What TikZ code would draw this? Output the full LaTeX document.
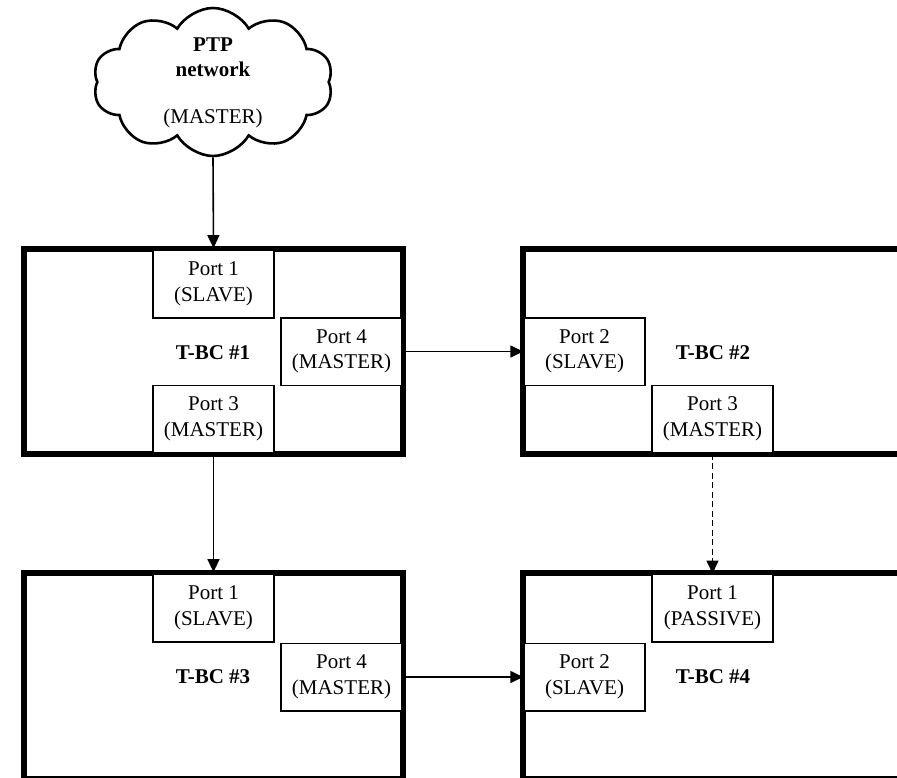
\documentclass[tikz,border=0pt]{standalone}
\usepackage{fontspec}
\setmainfont{Liberation Serif}
\usetikzlibrary{shapes.symbols,arrows.meta}
\tikzset{
  bcbox/.style={draw, line width=3.8pt, rectangle, inner sep=0pt, minimum width=377pt, minimum height=203pt},
  portbox/.style={draw, line width=1.5pt, fill=white, rectangle, inner sep=0pt, minimum width=121pt, minimum height=67.5pt, align=center, font=\fontsize{21}{25.5}\selectfont},
  bclabel/.style={font=\fontsize{21}{25}\selectfont\bfseries, inner sep=0pt},
  conn/.style={line width=1.6pt, -{Triangle[length=13pt,width=12pt]}},
}
\begin{document}
\begin{tikzpicture}[x=1pt,y=-1pt]
\clip (0,0) rectangle (897,778);
\fill[white] (0,0) rectangle (897,778);
% cloud
\node[cloud, draw, line width=2.6pt, cloud puffs=10, cloud puff arc=120, aspect=1.6, minimum width=240pt, minimum height=148pt, inner sep=0pt] (cloud) at (213,82) {};
\node[align=center, inner sep=0pt, font=\fontsize{21}{25}\selectfont] (cloudtext) at (213,83) {\textbf{PTP}\\\textbf{network}\\[22pt](MASTER)};
% boxes
\node[bcbox] (bc1) at (213.5,351.5) {};
\node[bcbox] (bc2) at (712.5,351.5) {};
\node[bcbox, minimum height=203.5pt] (bc3) at (213.5,675.75) {};
\node[bcbox, minimum height=203.5pt] (bc4) at (712.5,675.75) {};
% ports bc1
\node[portbox] (p11) at (213.5,284) {Port 1\\(SLAVE)};
\node[portbox] (p14) at (341.5,351.5) {Port 4\\(MASTER)};
\node[portbox] (p13) at (213.5,419) {Port 3\\(MASTER)};
\node[bclabel] (l1) at (213,353) {T-BC \#1};
% ports bc2
\node[portbox] (p22) at (584.5,351.5) {Port 2\\(SLAVE)};
\node[portbox] (p23) at (712.5,419) {Port 3\\(MASTER)};
\node[bclabel] (l2) at (713,353) {T-BC \#2};
% ports bc3
\node[portbox] (p31) at (213.5,608) {Port 1\\(SLAVE)};
\node[portbox] (p34) at (341.5,677) {Port 4\\(MASTER)};
\node[bclabel] (l3) at (213,677) {T-BC \#3};
% ports bc4
\node[portbox] (p41) at (712.5,608) {Port 1\\(PASSIVE)};
\node[portbox] (p42) at (584.5,677) {Port 2\\(SLAVE)};
\node[bclabel] (l4) at (713,677) {T-BC \#4};
% redraw outer borders over port edges
\foreach \b in {bc1,bc2,bc3,bc4} {
  \draw[line width=3.8pt] (\b.north west) rectangle (\b.south east);
}
% connectors
\draw[conn] (cloud.south) -- (bc1.north);
\draw[conn] (p14.east) -- (p22.west);
\draw[conn] (p13.south) -- (bc3.north);
\draw[conn, dash pattern=on 6pt off 3.5pt] (p23.south) -- (p41.north);
\draw[conn] (p34.east) -- (p42.west);
\end{tikzpicture}
\end{document}
